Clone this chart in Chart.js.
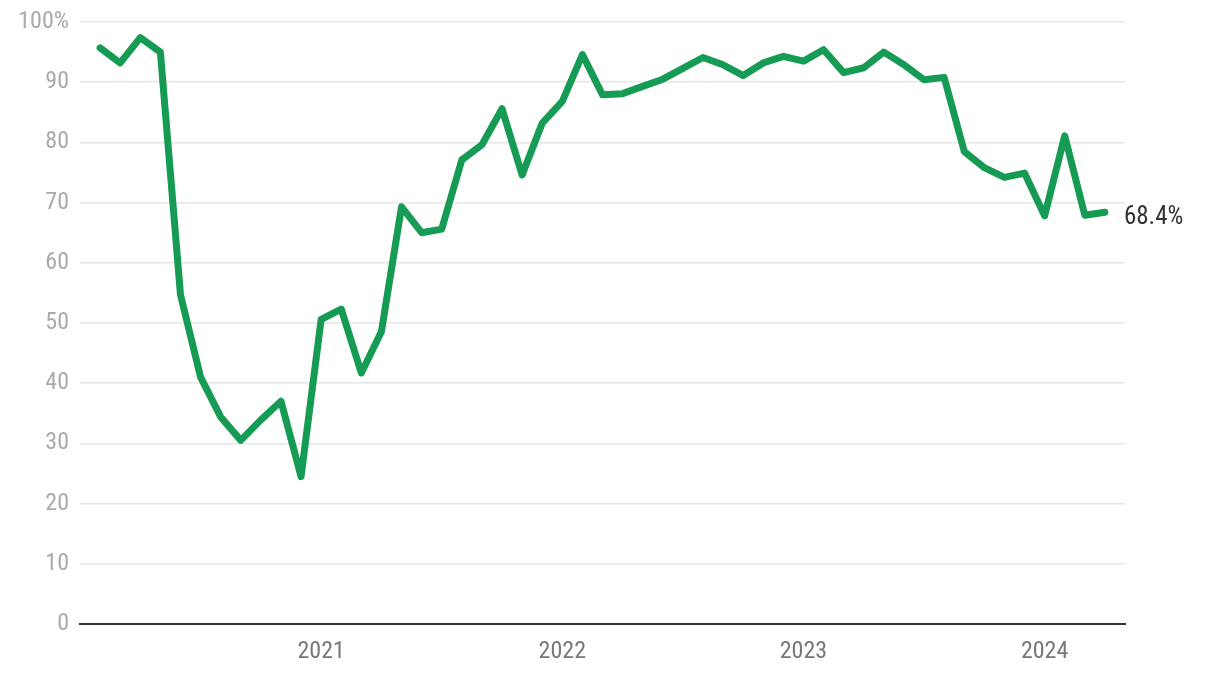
<!DOCTYPE html>
<html>
<head>
<meta charset="utf-8">
<script src="https://cdn.jsdelivr.net/npm/chart.js@4"></script>
<style>
  html, body { margin: 0; padding: 0; background: #fff; }
  #wrap { width: 1220px; height: 674px; }
</style>
</head>
<body>
<div id="wrap"><canvas id="chart" width="1220" height="674"></canvas></div>
<script>
// monthly readings, Feb 2020 .. Apr 2024
const months = [
    '2020-02','2020-03','2020-04','2020-05','2020-06','2020-07','2020-08','2020-09','2020-10','2020-11','2020-12',
    '2021-01','2021-02','2021-03','2021-04','2021-05','2021-06','2021-07','2021-08','2021-09','2021-10','2021-11','2021-12',
    '2022-01','2022-02','2022-03','2022-04','2022-05','2022-06','2022-07','2022-08','2022-09','2022-10','2022-11','2022-12',
    '2023-01','2023-02','2023-03','2023-04','2023-05','2023-06','2023-07','2023-08','2023-09','2023-10','2023-11','2023-12',
    '2024-01','2024-02','2024-03','2024-04'
];
const values = [
    95.7, 93.2, 97.4, 95.0, 54.7, 41.0, 34.4, 30.5, 33.9, 37.0, 24.5,
    50.6, 52.3, 41.7, 48.6, 69.3, 65.0, 65.6, 77.1, 79.6, 85.6, 74.6, 83.2,
    86.8, 94.6, 87.9, 88.1, 89.3, 90.5, 92.3, 94.1, 92.9, 91.1, 93.2, 94.3,
    93.5, 95.4, 91.6, 92.4, 95.0, 92.9, 90.4, 90.8, 78.5, 75.8, 74.2, 74.9,
    67.8, 81.1, 67.9, 68.4
];
const yearTicks = ['2021-01', '2022-01', '2023-01', '2024-01'];
const yTicks = [0, 10, 20, 30, 40, 50, 60, 70, 80, 90, 100];
const endLabel = '68.4%';

const lineColor = '#169b55';
const fontFamily = '"Liberation Sans Narrow", "Roboto Condensed", Roboto, sans-serif';

const endLabelPlugin = {
    id: 'endLabel',
    afterDatasetsDraw(chart) {
        const meta = chart.getDatasetMeta(0);
        const last = meta.data[meta.data.length - 1];
        const ctx = chart.ctx;
        ctx.save();
        ctx.font = '25px ' + fontFamily;
        ctx.fillStyle = '#333';
        ctx.textAlign = 'left';
        ctx.textBaseline = 'middle';
        ctx.fillText(endLabel, last.x + 19, last.y + 6);
        ctx.restore();
    }
};

new Chart(document.getElementById('chart'), {
    type: 'line',
    data: {
        datasets: [{
            data: values.map((v, i) => ({ x: i, y: v })),
            borderColor: lineColor,
            borderWidth: 7,
            borderCapStyle: 'round',
            borderJoinStyle: 'round',
            pointRadius: 0,
            tension: 0,
            fill: false
        }]
    },
    options: {
        responsive: false,
        animation: false,
        layout: { padding: { top: 22, right: 95, bottom: 0, left: 0 } },
        plugins: {
            legend: { display: false },
            tooltip: { enabled: false }
        },
        scales: {
            x: {
                type: 'linear',
                min: -1,
                max: months.length,
                afterFit(scale) { scale.height = 50; },
                afterBuildTicks(scale) {
                    scale.ticks = yearTicks.map(m => ({ value: months.indexOf(m) }));
                },
                grid: { display: false, drawTicks: false },
                border: { display: true, color: '#333', width: 2 },
                ticks: {
                    padding: 14,
                    color: '#777',
                    font: { family: fontFamily, size: 24 },
                    callback: (v) => months[v] ? months[v].slice(0, 4) : ''
                }
            },
            y: {
                min: 0,
                max: 100,
                afterFit(scale) {
                    scale.width = 80;
                    scale.paddingTop = 0;
                    scale.paddingBottom = 0;
                },
                afterBuildTicks(scale) {
                    scale.ticks = yTicks.map(v => ({ value: v }));
                },
                grid: {
                    color: (c) => c.tick && c.tick.value === 0 ? 'rgba(0,0,0,0)' : '#e6e6e6',
                    lineWidth: 1.5,
                    drawTicks: false
                },
                border: { display: false },
                ticks: {
                    padding: 11,
                    color: '#aaa',
                    font: { family: fontFamily, size: 24 },
                    callback: (v) => v === 100 ? v + '%' : v
                }
            }
        }
    },
    plugins: [endLabelPlugin]
});
</script>
</body>
</html>
